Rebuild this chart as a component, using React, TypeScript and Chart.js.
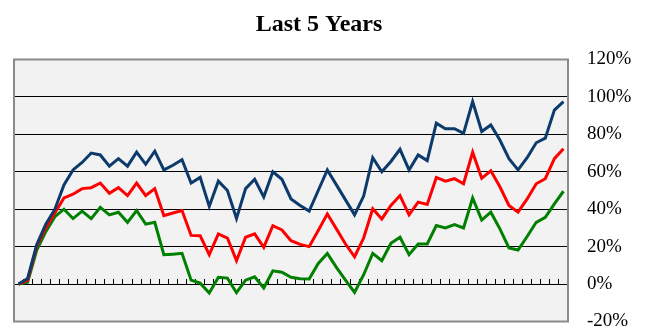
import React, { useEffect, useRef } from "react";
import { Chart, registerables } from "chart.js";

Chart.register(...registerables);

const TITLE = "Last 5 Years";

const periods: string[] = Array.from({ length: 61 }, (_, i) => `M${i}`);

const seriesBlue = [
  0, 3, 21, 32, 40, 53, 61, 65, 70, 69,
  63, 67, 63, 70.5, 64, 71, 61, 63.5, 66.5, 54,
  57, 41.5, 55, 50, 35, 51, 56, 46.5, 60, 56,
  45.5, 42, 39, 50, 61, 53, 45, 37, 47, 67.5,
  60, 65.5, 72, 61, 69, 66, 86, 83, 83, 80.5,
  97.5, 81.5, 85, 77, 67, 61, 67.5, 75.5, 78, 93,
  97.5,
];

const seriesRed = [
  0, 2, 20, 30, 38, 46, 48, 51, 51.5, 54,
  48.5, 51.5, 47.3, 54, 47.3, 51, 36.6, 38, 39.3, 26,
  25.8, 15.7, 26.8, 24.6, 12.5, 25, 26.8, 19.6, 31.2, 28.9,
  23.2, 21.2, 20, 28.6, 37.5, 29.5, 21.4, 14.6, 24.6, 40.2,
  34.8, 42, 47.3, 37, 43.8, 42.5, 57, 55, 56.3, 53.6,
  70.5, 56.5, 60.5, 52, 42, 38.4, 45.5, 53.6, 56.3, 67,
  72.3,
];

const seriesGreen = [
  0, 1, 18, 28, 36, 40, 35, 39, 35, 41,
  37, 38.4, 33, 39.3, 32, 33, 15.7, 16, 16.4, 2.1,
  0.5, -4.8, 3.6, 3.2, -4.6, 2.1, 3.9, -2.1, 7.1, 6.3,
  3.6, 2.8, 2.7, 11, 16.4, 8.9, 2.1, -4.5, 5, 16.4,
  12.5, 21.8, 25, 15.7, 21.4, 21.4, 31.3, 30, 31.8, 30,
  46, 34.2, 38.4, 29.5, 19.3, 18.2, 25.4, 33, 35.7, 42.9,
  49.6,
];

const Y_MIN = -20;
const Y_MAX = 120;
const Y_STEP = 20;

const SERIF = "'Liberation Serif', 'Times New Roman', serif";

const plotFrame = {
  id: "plotFrame",
  beforeDraw(chart: any) {
    const { ctx, chartArea } = chart;
    const { left, top, right, bottom } = chartArea;
    ctx.save();
    ctx.fillStyle = "#f2f2f2";
    ctx.fillRect(left, top, right - left, bottom - top);
    ctx.restore();
  },
  afterDraw(chart: any) {
    const { ctx, chartArea } = chart;
    const { left, top, right, bottom } = chartArea;
    ctx.save();
    ctx.strokeStyle = "#8a8a8a";
    ctx.lineWidth = 2;
    ctx.strokeRect(left, top, right - left, bottom - top);
    // chart title
    ctx.fillStyle = "#000";
    ctx.font = `bold 24px ${SERIF}`;
    ctx.textAlign = "center";
    ctx.textBaseline = "alphabetic";
    ctx.fillText(TITLE, 319, 30.5);
    ctx.restore();
  },
};

export default function App() {
  const ref = useRef<HTMLCanvasElement | null>(null);

  useEffect(() => {
    if (!ref.current) return;
    const chart = new Chart(ref.current, {
      type: "line",
      data: {
        labels: periods,
        datasets: [
          {
            label: "Series 1",
            data: seriesBlue,
            borderColor: "#0b3a6b",
            borderWidth: 3,
            pointRadius: 0,
            tension: 0,
          },
          {
            label: "Series 2",
            data: seriesRed,
            borderColor: "#ff0000",
            borderWidth: 3,
            pointRadius: 0,
            tension: 0,
          },
          {
            label: "Series 3",
            data: seriesGreen,
            borderColor: "#008000",
            borderWidth: 3,
            pointRadius: 0,
            tension: 0,
          },
        ],
      },
      options: {
        responsive: false,
        animation: false,
        devicePixelRatio: 1,
        layout: { padding: { left: 14, right: 0, top: 59.5, bottom: 9.5 } },
        plugins: {
          legend: { display: false },
          tooltip: { enabled: false },
          title: { display: false },
        },
        scales: {
          x: {
            type: "category",
            position: { y: 0 } as any,
            offset: true,
            ticks: { display: false },
            border: { display: false },
            grid: {
              offset: true,
              drawOnChartArea: false,
              drawTicks: true,
              tickLength: -5,
              color: "#000",
              lineWidth: 1,
            },
            afterFit: (scale: any) => {
              scale.height = 0;
              scale.paddingLeft = 0;
              scale.paddingRight = 0;
            },
          },
          y: {
            position: "right",
            min: Y_MIN,
            max: Y_MAX,
            ticks: {
              stepSize: Y_STEP,
              padding: 19,
              color: "#000",
              font: { family: SERIF, size: 19 },
              callback: (v: any) => `${v}%`,
            },
            border: { display: false },
            grid: {
              drawTicks: false,
              lineWidth: 1,
              color: (c: any) =>
                c.tick && (c.tick.value === Y_MIN || c.tick.value === Y_MAX)
                  ? "rgba(0,0,0,0)"
                  : "#000",
            },
            afterFit: (scale: any) => {
              scale.width = 82;
              scale.paddingTop = 0;
              scale.paddingBottom = 0;
            },
          },
        },
      },
      plugins: [plotFrame],
    });
    return () => chart.destroy();
  }, []);

  return (
    <div style={{ position: "absolute", left: 0, top: 0, width: 650, height: 331, background: "#fff" }}>
      <canvas ref={ref} width={650} height={331} />
    </div>
  );
}
